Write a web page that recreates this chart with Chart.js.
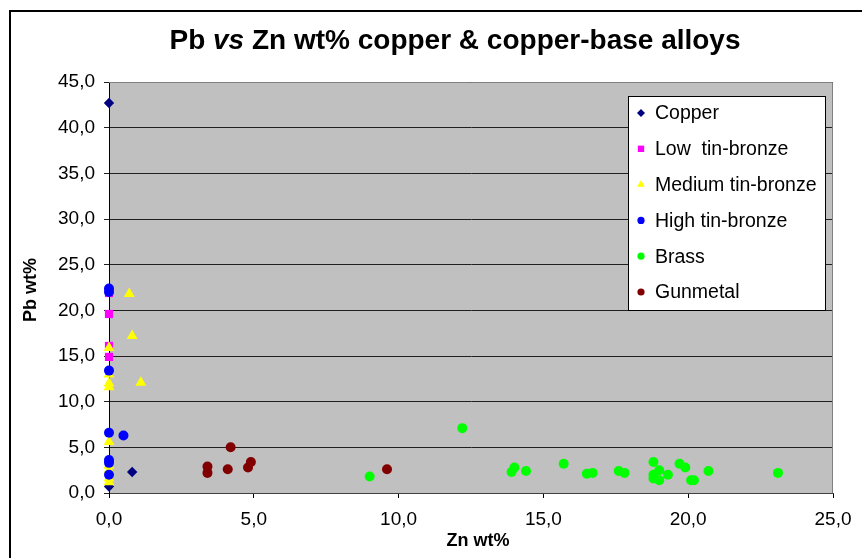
<!DOCTYPE html>
<html lang="en">
<head>
    <meta charset="UTF-8">
    <title>Pb vs Zn wt% copper &amp; copper-base alloys</title>
    <script src="https://cdn.jsdelivr.net/npm/chart.js"></script>
    <style>
        html, body { margin: 0; padding: 0; background: #fff; }
        canvas { display: block; }
    </style>
</head>
<body>
    <canvas id="pbZnChart" width="862" height="558"></canvas>

    <script>
// Zn wt% (x) and Pb wt% (y) for each alloy group
const copperZn = [0, 0.8, 0];
const copperPb = [42.7, 2.3, 0.7];

const lowTinZn = [0, 0, 0, 0];
const lowTinPb = [21.9, 19.6, 16.1, 14.9];

const medTinZn = [0.7, 0.8, 1.1, 0, 0, 0, 0, 0, 0, 0, 0, 0];
const medTinPb = [21.8, 17.2, 12.1, 15.9, 13.0, 12.0, 11.6, 5.6, 3.0, 2.5, 1.6, 1.2];

const highTinZn = [0, 0, 0, 0, 0.5, 0, 0, 0];
const highTinPb = [22.4, 22.0, 13.4, 6.6, 6.3, 3.6, 3.3, 2.0];

const brassZn = [9.0, 12.2, 14.0, 13.9, 14.4, 15.7, 16.5, 16.7, 17.6, 17.8, 18.8,
                 19.0, 18.8, 18.8, 19.0, 19.3, 19.7, 19.9, 20.1, 20.2, 20.7, 23.1];
const brassPb = [1.8, 7.1, 2.8, 2.3, 2.4, 3.2, 2.1, 2.2, 2.4, 2.2, 3.4,
                 2.5, 2.0, 1.6, 1.4, 2.0, 3.2, 2.8, 1.4, 1.4, 2.4, 2.2];

const gunmetalZn = [3.4, 3.4, 4.1, 4.2, 4.8, 4.9, 9.6];
const gunmetalPb = [2.9, 2.2, 2.6, 5.0, 2.8, 3.4, 2.6];

const seriesNames = ['Copper', 'Low  tin-bronze', 'Medium tin-bronze', 'High tin-bronze', 'Brass', 'Gunmetal'];

const xTicks = [0, 5, 10, 15, 20, 25];
const yTicks = [0, 5, 10, 15, 20, 25, 30, 35, 40, 45];

function toPoints(xs, ys) {
    return xs.map((x, i) => ({ x: x, y: ys[i] }));
}

function fmt(v) {
    return v.toFixed(1).replace('.', ',');
}

const FONT = '"Liberation Sans", Arial, sans-serif';

const styles = [
    { color: '#000080', pointStyle: 'rectRot', radius: 5.2, legendRadius: 4 },
    { color: '#FF00FF', pointStyle: 'rect', radius: 5.8, legendRadius: 4.5 },
    { color: '#FFFF00', pointStyle: 'triangle', radius: 6.3, legendRadius: 4.5 },
    { color: '#0000FF', pointStyle: 'circle', radius: 5, legendRadius: 3.6 },
    { color: '#00FF00', pointStyle: 'circle', radius: 5, legendRadius: 3.6 },
    { color: '#800000', pointStyle: 'circle', radius: 5, legendRadius: 3.6 }
];

const seriesData = [
    toPoints(copperZn, copperPb),
    toPoints(lowTinZn, lowTinPb),
    toPoints(medTinZn, medTinPb),
    toPoints(highTinZn, highTinPb),
    toPoints(brassZn, brassPb),
    toPoints(gunmetalZn, gunmetalPb)
];

const datasets = seriesData.map((pts, i) => ({
    label: seriesNames[i],
    data: pts,
    backgroundColor: styles[i].color,
    borderColor: styles[i].color,
    borderWidth: 0,
    pointStyle: styles[i].pointStyle,
    pointRadius: styles[i].radius,
    pointHoverRadius: styles[i].radius,
    // later series sit on top
    order: seriesNames.length - i,
    clip: false
}));

// grey plot area, outer frame and plot outline
const backdrop = {
    id: 'backdrop',
    beforeDraw(chart) {
        const { ctx, chartArea: a } = chart;
        ctx.save();
        ctx.fillStyle = '#fff';
        ctx.fillRect(0, 0, chart.width, chart.height);
        ctx.strokeStyle = '#000';
        ctx.lineWidth = 2;
        ctx.strokeRect(10, 11, 900, 600);
        ctx.fillStyle = '#C0C0C0';
        ctx.fillRect(a.left, a.top, a.right - a.left, a.bottom - a.top);
        ctx.restore();
    },
    afterDatasetsDraw(chart) {
        const { ctx, chartArea: a } = chart;
        ctx.save();
        ctx.strokeStyle = '#808080';
        ctx.lineWidth = 1;
        ctx.beginPath();
        ctx.moveTo(a.left, a.top + 0.5);
        ctx.lineTo(a.right - 0.5, a.top + 0.5);
        ctx.lineTo(a.right - 0.5, a.bottom);
        ctx.stroke();
        ctx.restore();
    }
};

// title with italic "vs", axis titles and the boxed legend
const labels = {
    id: 'labels',
    afterDraw(chart) {
        const ctx = chart.ctx;
        ctx.save();
        ctx.fillStyle = '#000';
        ctx.textBaseline = 'middle';

        const parts = [
            { t: 'Pb ', f: 'bold 28px ' + FONT },
            { t: 'vs', f: 'italic bold 28px ' + FONT },
            { t: ' Zn wt% copper & copper-base alloys', f: 'bold 28px ' + FONT }
        ];
        let total = 0;
        parts.forEach(p => { ctx.font = p.f; p.w = ctx.measureText(p.t).width; total += p.w; });
        let x = 455 - total / 2;
        ctx.textAlign = 'left';
        parts.forEach(p => { ctx.font = p.f; ctx.fillText(p.t, x, 41); x += p.w; });

        ctx.font = 'bold 18px ' + FONT;
        ctx.textAlign = 'center';
        ctx.fillText('Zn wt%', 478, 541);
        ctx.save();
        ctx.translate(31, 290);
        ctx.rotate(-Math.PI / 2);
        ctx.fillText('Pb wt%', 0, 0);
        ctx.restore();

        // legend
        const lx = 628, ly = 96, lw = 197, lh = 214;
        ctx.fillStyle = '#fff';
        ctx.fillRect(lx, ly, lw, lh);
        ctx.strokeStyle = '#000';
        ctx.lineWidth = 1;
        ctx.strokeRect(lx + 0.5, ly + 0.5, lw, lh);
        ctx.font = '19.5px ' + FONT;
        ctx.textAlign = 'left';
        chart.data.datasets.forEach((ds, i) => {
            const cy = 113 + i * 35.8;
            ctx.fillStyle = ds.backgroundColor;
            ctx.strokeStyle = ds.borderColor;
            Chart.helpers.drawPoint(ctx, {
                pointStyle: ds.pointStyle,
                radius: styles[i].legendRadius,
                borderWidth: 0,
                rotation: 0
            }, 641, cy);
            ctx.fillStyle = '#000';
            ctx.fillText(ds.label, 655, cy + 1);
        });
        ctx.restore();
    }
};

new Chart(document.getElementById('pbZnChart'), {
    type: 'scatter',
    data: { datasets: datasets },
    options: {
        responsive: false,
        animation: false,
        layout: { padding: { left: 0, top: 82, right: 29, bottom: 0 } },
        plugins: {
            legend: { display: false },
            title: { display: false },
            tooltip: { enabled: false }
        },
        scales: {
            x: {
                type: 'linear',
                min: 0,
                max: 25,
                afterBuildTicks: scale => { scale.ticks = xTicks.map(v => ({ value: v })); },
                afterFit: scale => { scale.height = 65; },
                ticks: {
                    callback: v => fmt(v),
                    color: '#000',
                    font: { family: FONT, size: 19 },
                    padding: 10,
                    maxRotation: 0
                },
                grid: { drawOnChartArea: false, tickLength: 5, color: '#000' },
                border: { color: '#404040' }
            },
            y: {
                type: 'linear',
                min: 0,
                max: 45,
                afterBuildTicks: scale => { scale.ticks = yTicks.map(v => ({ value: v })); },
                afterFit: scale => { scale.width = 109; },
                ticks: {
                    callback: v => fmt(v),
                    color: '#000',
                    font: { family: FONT, size: 19 },
                    padding: 9
                },
                grid: { tickLength: 5, color: '#202020' },
                border: { color: '#000' }
            }
        }
    },
    plugins: [backdrop, labels]
});
    </script>
</body>
</html>
